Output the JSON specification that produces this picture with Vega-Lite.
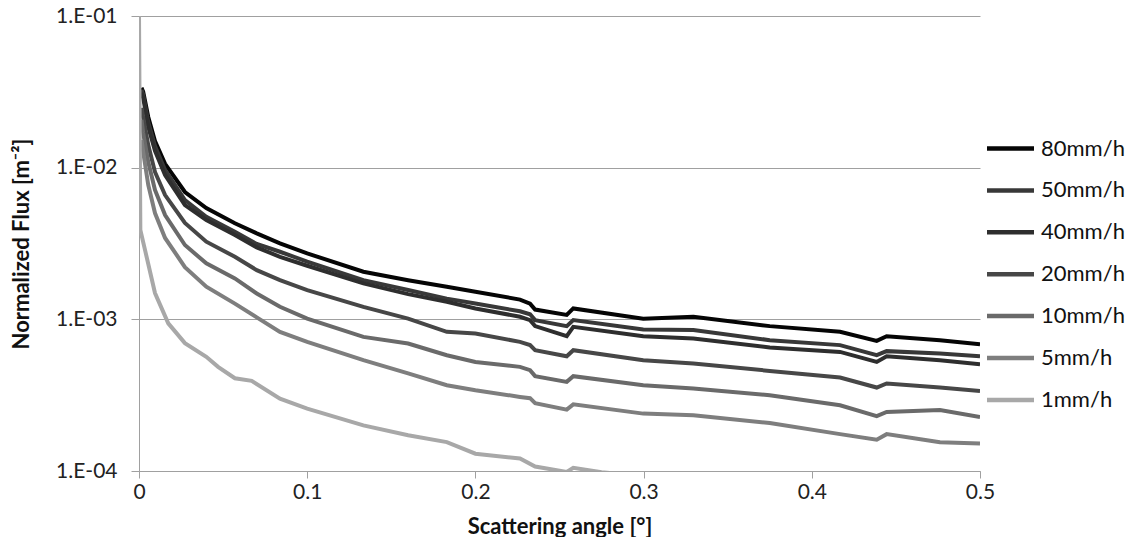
{
 "$schema": "https://vega.github.io/schema/vega-lite/v6.json",
 "width": 841, "height": 455,
 "autosize": {"type": "none"},
 "padding": {"left": 139, "top": 16, "right": 157, "bottom": 66},
 "background": "white",
 "config": {"view": {"stroke": null}, "font": "Lato"},
 "datasets": {
  "flux": [
   {"rate":"80mm/h","angle":0.0015,"flux":0.0336},{"rate":"80mm/h","angle":0.0025,"flux":0.0316},{"rate":"80mm/h","angle":0.0055,"flux":0.0216},{"rate":"80mm/h","angle":0.0095,"flux":0.0150},{"rate":"80mm/h","angle":0.0155,"flux":0.0106},{"rate":"80mm/h","angle":0.0273,"flux":0.00691},{"rate":"80mm/h","angle":0.04,"flux":0.00542},{"rate":"80mm/h","angle":0.057,"flux":0.0043},{"rate":"80mm/h","angle":0.07,"flux":0.00369},{"rate":"80mm/h","angle":0.0838,"flux":0.00317},{"rate":"80mm/h","angle":0.1,"flux":0.00272},{"rate":"80mm/h","angle":0.1334,"flux":0.00206},{"rate":"80mm/h","angle":0.16,"flux":0.00181},{"rate":"80mm/h","angle":0.183,"flux":0.00164},{"rate":"80mm/h","angle":0.2,"flux":0.00152},{"rate":"80mm/h","angle":0.2265,"flux":0.00135},{"rate":"80mm/h","angle":0.2325,"flux":0.00127},{"rate":"80mm/h","angle":0.2355,"flux":0.00116},{"rate":"80mm/h","angle":0.2543,"flux":0.00107},{"rate":"80mm/h","angle":0.2582,"flux":0.00118},{"rate":"80mm/h","angle":0.2998,"flux":0.00101},{"rate":"80mm/h","angle":0.3296,"flux":0.00104},{"rate":"80mm/h","angle":0.375,"flux":0.000902},{"rate":"80mm/h","angle":0.4168,"flux":0.000827},{"rate":"80mm/h","angle":0.4386,"flux":0.000721},{"rate":"80mm/h","angle":0.4445,"flux":0.000774},{"rate":"80mm/h","angle":0.4762,"flux":0.000729},{"rate":"80mm/h","angle":0.5,"flux":0.000686},
   {"rate":"50mm/h","angle":0.0015,"flux":0.0326},{"rate":"50mm/h","angle":0.0025,"flux":0.0302},{"rate":"50mm/h","angle":0.0055,"flux":0.0200},{"rate":"50mm/h","angle":0.0095,"flux":0.0139},{"rate":"50mm/h","angle":0.0155,"flux":0.00966},{"rate":"50mm/h","angle":0.0273,"flux":0.00612},{"rate":"50mm/h","angle":0.04,"flux":0.00475},{"rate":"50mm/h","angle":0.057,"flux":0.00378},{"rate":"50mm/h","angle":0.07,"flux":0.00314},{"rate":"50mm/h","angle":0.0838,"flux":0.00279},{"rate":"50mm/h","angle":0.1,"flux":0.0024},{"rate":"50mm/h","angle":0.1334,"flux":0.001814},{"rate":"50mm/h","angle":0.16,"flux":0.00156},{"rate":"50mm/h","angle":0.183,"flux":0.00137},{"rate":"50mm/h","angle":0.2,"flux":0.00127},{"rate":"50mm/h","angle":0.2265,"flux":0.00113},{"rate":"50mm/h","angle":0.2325,"flux":0.00108},{"rate":"50mm/h","angle":0.2355,"flux":0.000988},{"rate":"50mm/h","angle":0.2543,"flux":0.000902},{"rate":"50mm/h","angle":0.2582,"flux":0.000988},{"rate":"50mm/h","angle":0.2998,"flux":0.000858},{"rate":"50mm/h","angle":0.3296,"flux":0.000849},{"rate":"50mm/h","angle":0.375,"flux":0.000729},{"rate":"50mm/h","angle":0.4168,"flux":0.000676},{"rate":"50mm/h","angle":0.4386,"flux":0.00058},{"rate":"50mm/h","angle":0.4445,"flux":0.000617},{"rate":"50mm/h","angle":0.4762,"flux":0.000596},{"rate":"50mm/h","angle":0.5,"flux":0.000571},
   {"rate":"40mm/h","angle":0.0015,"flux":0.0311},{"rate":"40mm/h","angle":0.0025,"flux":0.0288},{"rate":"40mm/h","angle":0.0055,"flux":0.0186},{"rate":"40mm/h","angle":0.0095,"flux":0.0129},{"rate":"40mm/h","angle":0.0155,"flux":0.00895},{"rate":"40mm/h","angle":0.0273,"flux":0.00567},{"rate":"40mm/h","angle":0.04,"flux":0.00452},{"rate":"40mm/h","angle":0.057,"flux":0.0036},{"rate":"40mm/h","angle":0.07,"flux":0.00298},{"rate":"40mm/h","angle":0.0838,"flux":0.002585},{"rate":"40mm/h","angle":0.1,"flux":0.002255},{"rate":"40mm/h","angle":0.1334,"flux":0.001726},{"rate":"40mm/h","angle":0.16,"flux":0.001467},{"rate":"40mm/h","angle":0.183,"flux":0.001305},{"rate":"40mm/h","angle":0.2,"flux":0.00118},{"rate":"40mm/h","angle":0.2265,"flux":0.00104},{"rate":"40mm/h","angle":0.2325,"flux":0.000988},{"rate":"40mm/h","angle":0.2355,"flux":0.000902},{"rate":"40mm/h","angle":0.2543,"flux":0.000774},{"rate":"40mm/h","angle":0.2582,"flux":0.000892},{"rate":"40mm/h","angle":0.2998,"flux":0.000774},{"rate":"40mm/h","angle":0.3296,"flux":0.000748},{"rate":"40mm/h","angle":0.375,"flux":0.000652},{"rate":"40mm/h","angle":0.4168,"flux":0.00061},{"rate":"40mm/h","angle":0.4386,"flux":0.000524},{"rate":"40mm/h","angle":0.4445,"flux":0.000571},{"rate":"40mm/h","angle":0.4762,"flux":0.000538},{"rate":"40mm/h","angle":0.5,"flux":0.000506},
   {"rate":"20mm/h","angle":0.0015,"flux":0.0248},{"rate":"20mm/h","angle":0.0025,"flux":0.0213},{"rate":"20mm/h","angle":0.0055,"flux":0.0141},{"rate":"20mm/h","angle":0.0095,"flux":0.00937},{"rate":"20mm/h","angle":0.0155,"flux":0.0066},{"rate":"20mm/h","angle":0.0273,"flux":0.00432},{"rate":"20mm/h","angle":0.04,"flux":0.00325},{"rate":"20mm/h","angle":0.057,"flux":0.002585},{"rate":"20mm/h","angle":0.07,"flux":0.00211},{"rate":"20mm/h","angle":0.0838,"flux":0.001814},{"rate":"20mm/h","angle":0.1,"flux":0.00156},{"rate":"20mm/h","angle":0.1334,"flux":0.001209},{"rate":"20mm/h","angle":0.16,"flux":0.00101},{"rate":"20mm/h","angle":0.183,"flux":0.000827},{"rate":"20mm/h","angle":0.2,"flux":0.000807},{"rate":"20mm/h","angle":0.2265,"flux":0.00071},{"rate":"20mm/h","angle":0.2325,"flux":0.000676},{"rate":"20mm/h","angle":0.2355,"flux":0.000626},{"rate":"20mm/h","angle":0.2543,"flux":0.000571},{"rate":"20mm/h","angle":0.2582,"flux":0.000626},{"rate":"20mm/h","angle":0.2998,"flux":0.000538},{"rate":"20mm/h","angle":0.3296,"flux":0.000512},{"rate":"20mm/h","angle":0.375,"flux":0.000457},{"rate":"20mm/h","angle":0.4168,"flux":0.000413},{"rate":"20mm/h","angle":0.4386,"flux":0.000355},{"rate":"20mm/h","angle":0.4445,"flux":0.000378},{"rate":"20mm/h","angle":0.4762,"flux":0.000355},{"rate":"20mm/h","angle":0.5,"flux":0.000337},
   {"rate":"10mm/h","angle":0.0015,"flux":0.0207},{"rate":"10mm/h","angle":0.0025,"flux":0.0169},{"rate":"10mm/h","angle":0.0055,"flux":0.0109},{"rate":"10mm/h","angle":0.0095,"flux":0.00713},{"rate":"10mm/h","angle":0.0155,"flux":0.00487},{"rate":"10mm/h","angle":0.0273,"flux":0.00309},{"rate":"10mm/h","angle":0.04,"flux":0.00234},{"rate":"10mm/h","angle":0.057,"flux":0.00186},{"rate":"10mm/h","angle":0.07,"flux":0.00148},{"rate":"10mm/h","angle":0.0838,"flux":0.00121},{"rate":"10mm/h","angle":0.1,"flux":0.00101},{"rate":"10mm/h","angle":0.1334,"flux":0.000766},{"rate":"10mm/h","angle":0.16,"flux":0.000693},{"rate":"10mm/h","angle":0.183,"flux":0.00058},{"rate":"10mm/h","angle":0.2,"flux":0.000524},{"rate":"10mm/h","angle":0.2265,"flux":0.000486},{"rate":"10mm/h","angle":0.2325,"flux":0.000462},{"rate":"10mm/h","angle":0.2355,"flux":0.000422},{"rate":"10mm/h","angle":0.2543,"flux":0.000387},{"rate":"10mm/h","angle":0.2582,"flux":0.000422},{"rate":"10mm/h","angle":0.2998,"flux":0.000368},{"rate":"10mm/h","angle":0.3296,"flux":0.00035},{"rate":"10mm/h","angle":0.375,"flux":0.000316},{"rate":"10mm/h","angle":0.4168,"flux":0.000271},{"rate":"10mm/h","angle":0.4386,"flux":0.00023},{"rate":"10mm/h","angle":0.4445,"flux":0.000245},{"rate":"10mm/h","angle":0.4762,"flux":0.000252},{"rate":"10mm/h","angle":0.5,"flux":0.000227},
   {"rate":"5mm/h","angle":0.0015,"flux":0.0152},{"rate":"5mm/h","angle":0.0025,"flux":0.0127},{"rate":"5mm/h","angle":0.0055,"flux":0.00769},{"rate":"5mm/h","angle":0.0095,"flux":0.00502},{"rate":"5mm/h","angle":0.0155,"flux":0.00344},{"rate":"5mm/h","angle":0.0273,"flux":0.00221},{"rate":"5mm/h","angle":0.04,"flux":0.00164},{"rate":"5mm/h","angle":0.057,"flux":0.00127},{"rate":"5mm/h","angle":0.07,"flux":0.00103},{"rate":"5mm/h","angle":0.0838,"flux":0.000827},{"rate":"5mm/h","angle":0.1,"flux":0.00071},{"rate":"5mm/h","angle":0.1334,"flux":0.000538},{"rate":"5mm/h","angle":0.16,"flux":0.00044},{"rate":"5mm/h","angle":0.183,"flux":0.000368},{"rate":"5mm/h","angle":0.2,"flux":0.000341},{"rate":"5mm/h","angle":0.2265,"flux":0.000308},{"rate":"5mm/h","angle":0.2325,"flux":0.000302},{"rate":"5mm/h","angle":0.2355,"flux":0.00028},{"rate":"5mm/h","angle":0.2543,"flux":0.000254},{"rate":"5mm/h","angle":0.2582,"flux":0.000275},{"rate":"5mm/h","angle":0.2998,"flux":0.000239},{"rate":"5mm/h","angle":0.3296,"flux":0.000233},{"rate":"5mm/h","angle":0.375,"flux":0.000207},{"rate":"5mm/h","angle":0.4168,"flux":0.000175},{"rate":"5mm/h","angle":0.4386,"flux":0.000161},{"rate":"5mm/h","angle":0.4445,"flux":0.000175},{"rate":"5mm/h","angle":0.4762,"flux":0.000155},{"rate":"5mm/h","angle":0.5,"flux":0.000152},
   {"rate":"1mm/h","angle":0,"flux":0.1},{"rate":"1mm/h","angle":0.0008,"flux":0.00388},{"rate":"1mm/h","angle":0.0036,"flux":0.00286},{"rate":"1mm/h","angle":0.0095,"flux":0.00149},{"rate":"1mm/h","angle":0.0174,"flux":0.00094},{"rate":"1mm/h","angle":0.0273,"flux":0.000697},{"rate":"1mm/h","angle":0.04,"flux":0.000566},{"rate":"1mm/h","angle":0.047,"flux":0.000486},{"rate":"1mm/h","angle":0.057,"flux":0.000409},{"rate":"1mm/h","angle":0.067,"flux":0.000393},{"rate":"1mm/h","angle":0.0838,"flux":0.0003},{"rate":"1mm/h","angle":0.1,"flux":0.000258},{"rate":"1mm/h","angle":0.1334,"flux":0.0002},{"rate":"1mm/h","angle":0.16,"flux":0.000172},{"rate":"1mm/h","angle":0.183,"flux":0.000155},{"rate":"1mm/h","angle":0.2,"flux":0.00013},{"rate":"1mm/h","angle":0.2265,"flux":0.000121},{"rate":"1mm/h","angle":0.2355,"flux":0.000107},{"rate":"1mm/h","angle":0.2543,"flux":0.0000985},{"rate":"1mm/h","angle":0.2582,"flux":0.000105},{"rate":"1mm/h","angle":0.275,"flux":0.000098},{"rate":"1mm/h","angle":0.29,"flux":0.000095}
  ]
 },
 "data": {"name": "flux"},
 "mark": {"type": "line", "strokeWidth": 4, "clip": true},
 "encoding": {
  "x": {"field": "angle", "type": "quantitative",
   "scale": {"domain": [0, 0.5], "nice": false},
   "axis": {"title": "Scattering angle [°]", "values": [0, 0.1, 0.2, 0.3, 0.4, 0.5], "format": "~g",
    "grid": false, "domainColor": "#a0a0a0", "tickColor": "#a0a0a0", "tickSize": 7,
    "labelFont": "Lato", "labelFontSize": 21, "labelColor": "#222222", "labelPadding": 3, "labelOverlap": false, "labelFlush": false,
    "titleFont": "Lato", "titleFontSize": 22, "titleFontWeight": "bold", "titleColor": "#111111", "titlePadding": 14}},
  "y": {"field": "flux", "type": "quantitative",
   "scale": {"type": "log", "domain": [0.0001, 0.1], "nice": false},
   "axis": {"title": "Normalized Flux [m⁻²]", "values": [0.0001, 0.001, 0.01, 0.1],
    "labelExpr": "'1.E-0' + format(-log(datum.value)/LN10, '.0f')",
    "grid": true, "gridColor": "#a0a0a0", "domainColor": "#a0a0a0", "tickColor": "#a0a0a0", "tickSize": 8,
    "labelFont": "Lato", "labelFontSize": 21, "labelColor": "#222222", "labelPadding": 14, "labelOverlap": false, "labelFlush": false,
    "titleFont": "Lato", "titleFontSize": 22, "titleFontWeight": "bold", "titleColor": "#111111", "titlePadding": 22}},
  "color": {"field": "rate", "type": "nominal",
   "scale": {"domain": ["80mm/h", "50mm/h", "40mm/h", "20mm/h", "10mm/h", "5mm/h", "1mm/h"],
    "range": ["#050505", "#383838", "#2e2e2e", "#474747", "#6a6a6a", "#7e7e7e", "#a8a8a8"]},
   "legend": {"orient": "none", "legendX": 859, "legendY": 120, "title": null, "padding": 0,
    "symbolType": "M-2.35,0H2.35", "symbolSize": 400, "symbolStrokeWidth": 4.5, "symbolFillColor": "transparent",
    "labelFont": "Lato", "labelFontSize": 22, "labelColor": "#111111", "labelOffset": 18, "rowPadding": 17.9}}
 }
}
